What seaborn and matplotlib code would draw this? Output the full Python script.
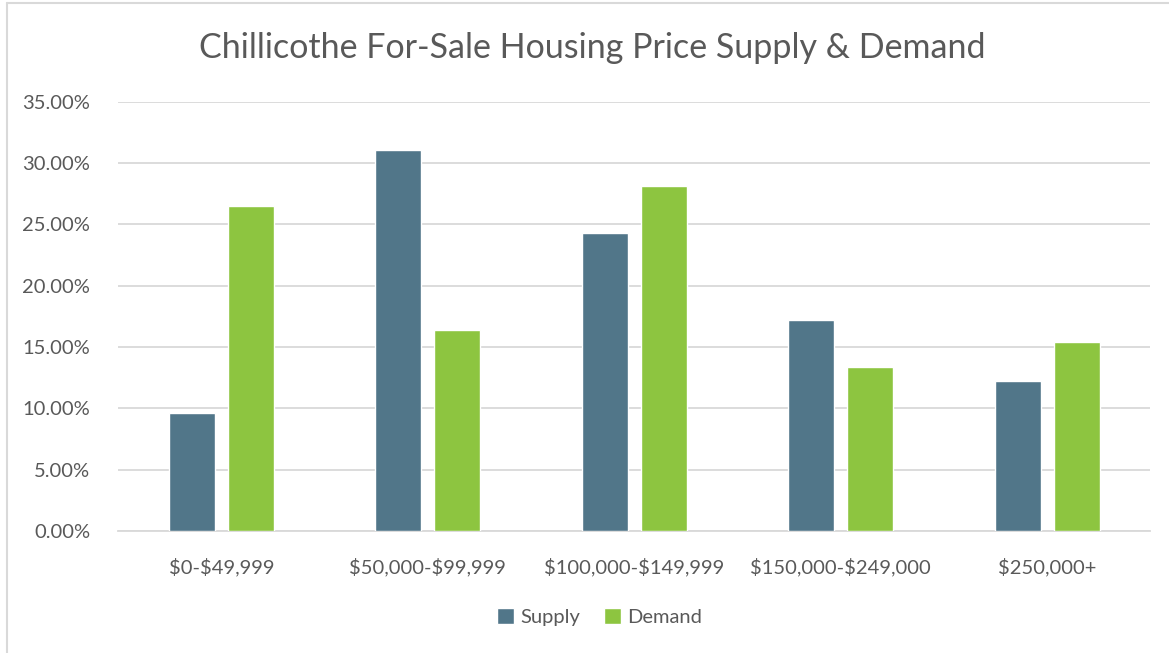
import matplotlib
matplotlib.use("Agg")
import matplotlib.pyplot as plt
from matplotlib.lines import Line2D
from matplotlib.patches import Patch
from matplotlib.ticker import FuncFormatter, MultipleLocator
import pandas as pd
import seaborn as sns

# Price bands and share of supply / demand (percent)
categories = ["$0-$49,999", "$50,000-$99,999", "$100,000-$149,999",
              "$150,000-$249,000", "$250,000+"]
supply = [9.6, 31.1, 24.3, 17.2, 12.2]
demand = [26.5, 16.4, 28.1, 13.4, 15.4]
series = ["Supply", "Demand"]

SUPPLY_COLOR = "#517689"
DEMAND_COLOR = "#8DC540"
TEXT_COLOR = "#595959"
GRID_COLOR = "#D9D9D9"

df = pd.DataFrame({
    "band": categories * 2,
    "share": supply + demand,
    "series": [series[0]] * len(categories) + [series[1]] * len(categories),
})

sns.set_theme(style="white")
plt.rcParams["font.family"] = ["Lato", "DejaVu Sans"]
plt.rcParams["text.parse_math"] = False

fig = plt.figure(figsize=(11.69, 6.53), dpi=100)
ax = fig.add_axes([0.101, 0.187, 0.883, 0.657])

sns.barplot(data=df, x="band", y="share", hue="series", order=categories,
            hue_order=series, palette=[SUPPLY_COLOR, DEMAND_COLOR],
            width=0.572, gap=0.22, saturation=1, errorbar=None,
            legend=False, ax=ax, zorder=3)

ax.set_xlim(-0.5, len(categories) - 0.5)
ax.set_ylim(0, 35)
ax.yaxis.set_major_locator(MultipleLocator(5))
ax.yaxis.set_major_formatter(FuncFormatter(lambda v, _: f"{v:.2f}%"))
ax.grid(axis="y", color=GRID_COLOR, linewidth=1.3, zorder=0)
ax.set_axisbelow(True)
for side in ["top", "right", "left"]:
    ax.spines[side].set_visible(False)
ax.spines["bottom"].set_color(GRID_COLOR)
ax.spines["bottom"].set_linewidth(1.3)
ax.tick_params(axis="both", length=0, labelsize=14.5, labelcolor=TEXT_COLOR)
ax.tick_params(axis="y", pad=20)
ax.tick_params(axis="x", pad=19)
ax.set_xlabel("")
ax.set_ylabel("")

fig.text(0.507, 0.927, "Chillicothe For-Sale Housing Price Supply & Demand",
         ha="center", va="center", fontsize=24.5, color=TEXT_COLOR)

handles = [Patch(facecolor=SUPPLY_COLOR, label=series[0]),
           Patch(facecolor=DEMAND_COLOR, label=series[1])]
fig.legend(handles=handles, loc="center", bbox_to_anchor=(0.513, 0.055),
           ncol=2, frameon=False, fontsize=14.5, labelcolor=TEXT_COLOR,
           handlelength=0.85, handleheight=0.85, handletextpad=0.3,
           columnspacing=1.2)

# Chart frame (left and top edges)
fig.add_artist(Line2D([0.006, 0.006], [0.0, 0.995], transform=fig.transFigure,
                      color=GRID_COLOR, linewidth=1.5))
fig.add_artist(Line2D([0.006, 1.0], [0.995, 0.995], transform=fig.transFigure,
                      color=GRID_COLOR, linewidth=1.5))

fig.savefig("out.png", dpi=100, facecolor="white")
